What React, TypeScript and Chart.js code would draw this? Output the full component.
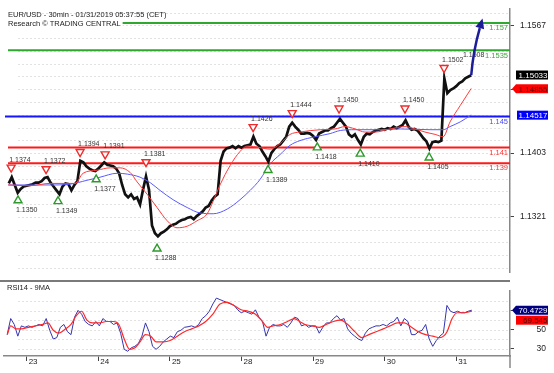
import React, { useEffect, useRef } from 'react';
import { Chart, registerables } from 'chart.js';
Chart.register(...registerables);

const FONT = '"Liberation Sans", Arial, sans-serif';

// ---- axis / time ----
const dayLabels = ['23', '24', '25', '28', '29', '30', '31'];
const dayStartHours = [0, 24, 48, 72, 96, 120, 144];
const X_MIN = -7.6;
const X_MAX = 162;

// ---- texts ----
const headerLine1 = 'EUR/USD - 30min - 01/31/2019 05:37:55 (CET)';
const headerLine2 = 'Research © TRADING CENTRAL';
const rsiTitle = 'RSI14 - 9MA';

// ---- price (hourly closes, first at hour -6) ----
const priceStartHour = -6;
const closes = [
  1.1364, 1.1372, 1.1362, 1.1352, 1.1357, 1.1360,
  1.1361, 1.1362, 1.1363, 1.1365, 1.1365, 1.1367, 1.1371, 1.1372, 1.1365, 1.1360, 1.1355, 1.1350,
  1.1360, 1.1364, 1.1363, 1.1355, 1.1362, 1.1367, 1.1393, 1.1391, 1.1386, 1.1383, 1.1381, 1.1380,
  1.1383, 1.1387, 1.1391, 1.1388, 1.1387, 1.1386, 1.1383, 1.1377, 1.1362, 1.1350, 1.1346, 1.1350,
  1.1344, 1.1346, 1.1337, 1.1356, 1.1373, 1.1356, 1.1310, 1.1300, 1.1296, 1.1300, 1.1302, 1.1305,
  1.1309, 1.1311, 1.1312, 1.1315, 1.1317, 1.1318, 1.1320, 1.1321, 1.1318, 1.1322, 1.1325, 1.1328,
  1.1333, 1.1335, 1.1342, 1.1347, 1.1350, 1.1393, 1.1405, 1.1409, 1.1410, 1.1412, 1.1409, 1.1412,
  1.1410, 1.1412, 1.1413, 1.1414, 1.1424, 1.1415, 1.1412, 1.1405, 1.1399, 1.1392, 1.1403, 1.1408,
  1.1412, 1.1414, 1.1419, 1.1424, 1.1437, 1.1442, 1.1437, 1.1433, 1.1428, 1.1428, 1.1429, 1.1428,
  1.1425, 1.1420, 1.1428, 1.1430, 1.1432, 1.1432, 1.1435, 1.1437, 1.1442, 1.1447, 1.1442, 1.1437,
  1.1427, 1.1424, 1.1427, 1.1420, 1.1414, 1.1424, 1.1428, 1.1427, 1.1430, 1.1432, 1.1433, 1.1434,
  1.1433, 1.1435, 1.1434, 1.1437, 1.1435, 1.1437, 1.1439, 1.1445, 1.1437, 1.1433, 1.1434, 1.1432,
  1.1427, 1.1422, 1.1418, 1.1409, 1.1417, 1.1418, 1.1417, 1.1419, 1.1499, 1.1480, 1.1484, 1.1486,
  1.1489, 1.1493, 1.1495, 1.1499, 1.1501, 1.1503,
];

// moving averages: [hour, price]
const fastMA: [number, number][] = [
  [-6.2, 1.1362], [1.1, 1.1361], [7.8, 1.1364], [16.2, 1.1364], [18.9, 1.1377], [23.6, 1.1381],
  [28.0, 1.1384], [31.3, 1.1384], [34.7, 1.1378], [37.0, 1.1366], [40.4, 1.1350], [43.7, 1.1333],
  [47.1, 1.1316], [50.4, 1.1307], [53.8, 1.1309], [57.1, 1.1316], [60.5, 1.1325], [62.5, 1.1341],
  [64.8, 1.1362], [68.2, 1.1387], [71.5, 1.1405], [73.9, 1.1412], [78.2, 1.1410], [81.6, 1.1408],
  [84.9, 1.1415], [88.3, 1.1427], [91.6, 1.1430], [98.4, 1.1433], [103.4, 1.1434], [106.7, 1.1437],
  [110.1, 1.1434], [113.4, 1.1430], [116.8, 1.1430], [121.8, 1.1434], [126.8, 1.1437], [130.2, 1.1434],
  [133.5, 1.1430], [136.9, 1.1427], [139.6, 1.1424], [141.9, 1.1443], [145.3, 1.1464], [149.0, 1.1486],
];
const slowMA: [number, number][] = [
  [-6.2, 1.1362], [2.1, 1.1362], [7.8, 1.1362], [14.5, 1.1363], [20.2, 1.1368], [24.6, 1.1372],
  [30.3, 1.1377], [33.7, 1.1376], [38.0, 1.1372], [41.4, 1.1365], [44.7, 1.1355], [49.1, 1.1343],
  [53.8, 1.1333], [58.1, 1.1326], [62.5, 1.1325], [67.2, 1.1331], [71.5, 1.1343], [74.9, 1.1355],
  [78.2, 1.1369], [81.6, 1.1389], [84.9, 1.1401], [88.3, 1.1413], [91.6, 1.1419], [96.7, 1.1424],
  [101.7, 1.1428], [105.1, 1.1432], [110.1, 1.1433], [118.5, 1.1433], [125.2, 1.1434], [135.2, 1.1433],
  [139.6, 1.1433], [141.9, 1.1437], [145.3, 1.1443], [149.0, 1.1452],
];

// horizontal levels
const levelValues = [1.157, 1.1535, 1.145, 1.141, 1.139];
const levelTexts = ['1.157', '1.1535', '1.145', '1.141', '1.139'];
const levelColors = ['#2fa82f', '#2fa82f', '#1515ff', '#ff1a1a', '#ff1a1a'];
const levelTextColors = ['#3aa83a', '#3aa83a', '#4a4aff', '#ff3030', '#ff3030'];

// swing highs / lows
const peakHours = [-5.2, 6.5, 17.9, 26.3, 40.0, 75.9, 89.0, 104.7, 126.8, 139.9];
const peakValues = [1.1374, 1.1372, 1.1394, 1.1391, 1.1381, 1.1426, 1.1444, 1.1450, 1.1450, 1.1502];
const troughHours = [-2.9, 10.5, 23.3, 43.7, 80.9, 97.4, 111.8, 134.9];
const troughValues = [1.1350, 1.1349, 1.1377, 1.1288, 1.1389, 1.1418, 1.1410, 1.1405];
const extraLabelHour = 146.9;
const extraLabelValue = 1.1508;

// target arrow
const targetHour = 152.8;
const targetValue = 1.1576;

const priceTicks = [1.1321, 1.1403, 1.1485, 1.1567];
const priceGridBase = 1.1239;
const priceGridStep = 0.00164;
const lastClose = 1.15033;
const lastFast = 1.14855;
const lastSlow = 1.14517;

// ---- RSI ----
const rsiStartHour = -6.54;
const rsiStepHours = 1.1887;
const rsiValues = [
  44.8, 61.7, 55.5, 43.2, 54.0, 52.5, 54.0, 52.5, 54.0, 55.5,
  54.0, 61.7, 49.4, 40.2, 41.7, 52.5, 55.5, 47.9, 44.8, 63.2,
  70.3, 66.3, 58.6, 55.5, 54.0, 58.6, 54.0, 61.7, 58.6, 58.6,
  55.5, 57.1, 46.3, 29.4, 27.3, 31.0, 32.5, 35.5, 43.2, 57.1,
  47.9, 32.5, 29.4, 32.5, 37.1, 40.2, 43.2, 41.7, 47.9, 49.4,
  52.5, 53.1, 54.0, 52.5, 55.5, 61.7, 64.7, 69.4, 77.0, 83.2,
  81.6, 80.1, 78.6, 77.0, 75.5, 70.9, 67.8, 69.4, 67.8, 66.3,
  70.9, 63.2, 58.6, 43.2, 52.5, 55.5, 54.0, 54.0, 55.5, 52.5,
  57.1, 63.2, 61.7, 54.0, 55.5, 52.5, 54.0, 54.0, 46.3, 52.5,
  57.1, 57.1, 61.7, 64.7, 60.1, 61.7, 50.9, 46.3, 43.2, 40.2,
  38.6, 46.3, 50.9, 52.5, 54.0, 54.0, 55.5, 54.0, 57.1, 58.6,
  63.2, 54.0, 61.7, 58.6, 44.8, 44.8, 47.9, 49.4, 55.5, 40.2,
  32.5, 38.6, 43.2, 46.3, 75.5, 69.4, 67.8, 69.4, 67.8, 67.8,
  69.4, 70.5,
];
const rsiMA: [number, number][] = [
  [-6.5, 44.8], [-5.35, 54.0], [-3.57, 50.9], [-1.78, 50.9], [0.59, 52.5], [2.97, 54.0], [5.35, 55.5],
  [7.13, 57.1], [8.92, 49.4], [10.7, 46.3], [13.1, 50.9], [14.86, 55.5], [16.64, 64.7], [18.4, 69.4],
  [20.2, 60.1], [22.0, 57.1], [24.4, 57.1], [26.7, 58.6], [29.1, 58.6], [30.9, 55.5], [32.7, 40.2],
  [34.5, 29.4], [36.3, 31.0], [38.0, 37.1], [39.8, 44.8], [41.6, 43.2], [43.4, 37.1], [45.8, 37.1],
  [48.1, 38.6], [50.5, 43.2], [52.9, 47.9], [55.3, 50.9], [57.7, 54.0], [60.0, 58.6], [62.4, 66.3],
  [64.8, 77.0], [67.2, 78.6], [69.5, 75.5], [71.9, 70.9], [74.3, 69.4], [76.7, 66.3], [79.0, 58.6],
  [80.8, 52.5], [82.6, 54.0], [85.0, 55.5], [87.4, 58.6], [89.7, 61.7], [91.5, 58.6], [93.3, 55.5],
  [95.7, 54.0], [98.1, 52.5], [100.4, 55.5], [102.8, 58.6], [105.2, 60.1], [107.6, 55.5], [110.0, 47.9],
  [112.3, 41.7], [114.7, 44.8], [117.1, 47.9], [119.5, 50.9], [121.8, 54.0], [124.2, 57.1], [126.6, 57.1],
  [129.0, 52.5], [131.3, 47.9], [133.7, 44.8], [136.1, 43.2], [138.5, 41.7], [139.7, 43.2], [140.9, 47.9],
  [142.6, 61.7], [144.4, 67.8], [146.8, 67.8], [149.2, 69.5],
];
const rsiTicks = [30, 50, 70];
const rsiGrid = [30, 40, 50, 60, 70, 80];
const lastRsi = 70.4729;
const lastRsiMA = 69.545;

// ---------- drawing helpers ----------
function drawBox(ctx: CanvasRenderingContext2D, cy: number, text: string, bg: string, fg: string, pointer: boolean, xl: number) {
  const xr = 548;
  const h = 9;
  ctx.save();
  ctx.fillStyle = bg;
  ctx.beginPath();
  if (pointer) {
    ctx.moveTo(xl - 4, cy);
    ctx.lineTo(xl, cy - h / 2);
  } else {
    ctx.moveTo(xl, cy - h / 2);
  }
  ctx.lineTo(xr, cy - h / 2);
  ctx.lineTo(xr, cy + h / 2);
  ctx.lineTo(xl, cy + h / 2);
  ctx.closePath();
  ctx.fill();
  ctx.fillStyle = fg;
  ctx.font = `8px ${FONT}`;
  ctx.textAlign = 'right';
  ctx.textBaseline = 'middle';
  ctx.fillText(text, xr - 0.5, cy + 0.5);
  ctx.restore();
}

function tri(ctx: CanvasRenderingContext2D, x: number, y: number, down: boolean, color: string) {
  ctx.save();
  ctx.beginPath();
  if (down) {
    ctx.moveTo(x - 4, y - 3.5);
    ctx.lineTo(x + 4, y - 3.5);
    ctx.lineTo(x, y + 3.5);
  } else {
    ctx.moveTo(x - 4, y + 3.5);
    ctx.lineTo(x + 4, y + 3.5);
    ctx.lineTo(x, y - 3.5);
  }
  ctx.closePath();
  ctx.fillStyle = '#fff';
  ctx.fill();
  ctx.strokeStyle = color;
  ctx.lineWidth = 1.4;
  ctx.stroke();
  ctx.restore();
}

const mainPlugin = {
  id: 'mainDeco',
  beforeDatasetsDraw(chart: any) {
    const { ctx, chartArea: a, scales } = chart;
    const y = scales.y;
    ctx.save();
    ctx.strokeStyle = '#e2e2e2';
    ctx.lineWidth = 1;
    ctx.setLineDash([2, 2]);
    for (let v = priceGridBase; v <= y.max; v += priceGridStep) {
      const py = Math.round(y.getPixelForValue(v)) + 0.5;
      if (py < a.top || py > a.bottom - 2) continue;
      ctx.beginPath();
      ctx.moveTo(a.left + 14, py);
      ctx.lineTo(a.right, py);
      ctx.stroke();
    }
    ctx.setLineDash([]);
    levelValues.forEach((v, i) => {
      const py = y.getPixelForValue(v);
      ctx.strokeStyle = levelColors[i];
      ctx.lineWidth = 2;
      ctx.beginPath();
      ctx.moveTo(a.left + (i === 2 ? 1 : 4), py);
      ctx.lineTo(a.right, py);
      ctx.stroke();
    });
    ctx.restore();
  },
  afterDatasetsDraw(chart: any) {
    const { ctx, chartArea: a, scales } = chart;
    const x = scales.x;
    const y = scales.y;
    ctx.save();
    // level labels
    ctx.font = `7.5px ${FONT}`;
    ctx.textAlign = 'right';
    ctx.textBaseline = 'top';
    levelValues.forEach((v, i) => {
      const py = y.getPixelForValue(v);
      ctx.fillStyle = levelTextColors[i];
      ctx.fillText(levelTexts[i], a.right - 2, py + 1.5);
    });
    // markers
    ctx.font = `7px ${FONT}`;
    ctx.textAlign = 'left';
    ctx.textBaseline = 'middle';
    peakHours.forEach((h, i) => {
      const px = x.getPixelForValue(h);
      const py = y.getPixelForValue(peakValues[i]) - 7;
      tri(ctx, px, py, true, '#ee2b2b');
      ctx.fillStyle = '#333';
      ctx.fillText(peakValues[i].toFixed(4), px - 2, py - 9);
    });
    troughHours.forEach((h, i) => {
      const px = x.getPixelForValue(h);
      const py = y.getPixelForValue(troughValues[i]) + 5;
      tri(ctx, px, py, false, '#2e9a2e');
      ctx.fillStyle = '#333';
      ctx.fillText(troughValues[i].toFixed(4), px - 2, py + 11);
    });
    {
      const px = x.getPixelForValue(extraLabelHour);
      const py = y.getPixelForValue(extraLabelValue) - 7;
      ctx.fillStyle = '#333';
      ctx.fillText(extraLabelValue.toFixed(4), px - 2, py - 9);
    }
    // arrow
    const x0 = x.getPixelForValue(priceStartHour + closes.length - 1);
    const y0 = y.getPixelForValue(closes[closes.length - 1]);
    const x1 = x.getPixelForValue(targetHour);
    const y1 = y.getPixelForValue(targetValue);
    const cx = x0 + 2;
    const cy = (y0 + y1) / 2 + 4;
    const ang = Math.atan2(y1 - cy, x1 - cx);
    const hl = 10;
    const hw = 4.5;
    const bx = x1 - hl * Math.cos(ang);
    const by = y1 - hl * Math.sin(ang);
    ctx.strokeStyle = '#1d1d9a';
    ctx.fillStyle = '#1d1d9a';
    ctx.lineWidth = 2.5;
    ctx.beginPath();
    ctx.moveTo(x0, y0);
    ctx.quadraticCurveTo(cx, cy, bx, by);
    ctx.stroke();
    ctx.beginPath();
    ctx.moveTo(x1, y1);
    ctx.lineTo(bx + hw * Math.sin(ang), by - hw * Math.cos(ang));
    ctx.lineTo(bx - hw * Math.sin(ang), by + hw * Math.cos(ang));
    ctx.closePath();
    ctx.fill();
    // header
    ctx.font = `7.5px ${FONT}`;
    ctx.textAlign = 'left';
    ctx.textBaseline = 'middle';
    const w2 = ctx.measureText(headerLine2).width;
    ctx.fillStyle = '#fff';
    ctx.fillRect(6, 19, w2 + 4, 9);
    ctx.fillStyle = '#222';
    ctx.fillText(headerLine1, 8, 15);
    ctx.fillText(headerLine2, 8, 23.5);
    // separator
    ctx.strokeStyle = '#7a7a7a';
    ctx.lineWidth = 2;
    ctx.beginPath();
    ctx.moveTo(0, chart.height - 1);
    ctx.lineTo(a.right, chart.height - 1);
    ctx.stroke();
    ctx.restore();
  },
  afterDraw(chart: any) {
    const { ctx, scales } = chart;
    const y = scales.y;
    drawBox(ctx, y.getPixelForValue(lastClose), lastClose.toFixed(5), '#000', '#fff', false, 516);
    drawBox(ctx, y.getPixelForValue(lastFast), lastFast.toFixed(5), '#ff0000', '#5a0000', true, 516);
    drawBox(ctx, y.getPixelForValue(lastSlow), lastSlow.toFixed(5), '#0000ff', '#fff', false, 517);
  },
};

const rsiPlugin = {
  id: 'rsiDeco',
  beforeDatasetsDraw(chart: any) {
    const { ctx, chartArea: a, scales } = chart;
    const y = scales.y;
    ctx.save();
    ctx.strokeStyle = '#e2e2e2';
    ctx.lineWidth = 1;
    ctx.setLineDash([2, 2]);
    rsiGrid.forEach((v) => {
      const py = Math.round(y.getPixelForValue(v)) + 0.5;
      ctx.beginPath();
      ctx.moveTo(a.left + 14, py);
      ctx.lineTo(a.right, py);
      ctx.stroke();
    });
    ctx.restore();
  },
  afterDraw(chart: any) {
    const { ctx, chartArea: a, scales } = chart;
    const y = scales.y;
    ctx.save();
    ctx.font = `7.5px ${FONT}`;
    ctx.fillStyle = '#222';
    ctx.textAlign = 'left';
    ctx.textBaseline = 'middle';
    ctx.fillText(rsiTitle, 7, 6);
    ctx.strokeStyle = '#888';
    ctx.lineWidth = 1.5;
    ctx.beginPath();
    ctx.moveTo(a.right, a.bottom);
    ctx.lineTo(a.right, chart.height - 5);
    ctx.stroke();
    ctx.restore();
    const yr = y.getPixelForValue(lastRsi);
    let ym = y.getPixelForValue(lastRsiMA);
    if (Math.abs(ym - yr) < 10) ym = yr + 10;
    drawBox(ctx, yr, lastRsi.toFixed(4), '#000080', '#fff', true, 516);
    drawBox(ctx, ym, String(lastRsiMA), '#ff0000', '#5a0000', false, 516);
  },
};

export default function App() {
  const mainRef = useRef<HTMLCanvasElement>(null);
  const rsiRef = useRef<HTMLCanvasElement>(null);

  useEffect(() => {
    document.body.style.margin = '0';
    const fixW = (s: any) => { s.width = 36; };

    const main = new Chart(mainRef.current as HTMLCanvasElement, {
      type: 'line',
      data: {
        datasets: [
          {
            data: fastMA.map(([h, v]) => ({ x: h, y: v })),
            borderColor: '#ff3a3a',
            borderWidth: 1,
            pointRadius: 0,
            cubicInterpolationMode: 'monotone',
          },
          {
            data: slowMA.map(([h, v]) => ({ x: h, y: v })),
            borderColor: '#5a5aff',
            borderWidth: 1,
            pointRadius: 0,
            cubicInterpolationMode: 'monotone',
          },
          {
            data: closes.map((v, i) => ({ x: priceStartHour + i, y: v })),
            borderColor: '#111',
            borderWidth: 2.7,
            pointRadius: 0,
            tension: 0,
          },
        ],
      } as any,
      options: {
        animation: false,
        responsive: false,
        devicePixelRatio: 1,
        events: [],
        layout: { padding: { left: 4, right: 8, top: 8, bottom: 1 } },
        plugins: { legend: { display: false }, tooltip: { enabled: false } },
        scales: {
          x: { type: 'linear', min: X_MIN, max: X_MAX, display: false },
          y: {
            position: 'right',
            min: 1.1249,
            max: 1.1588,
            afterBuildTicks: (s: any) => { s.ticks = priceTicks.map((v) => ({ value: v })); },
            afterFit: fixW,
            ticks: {
              callback: (v: any) => Number(v).toFixed(4),
              font: { size: 8.5, family: FONT },
              color: '#222',
              crossAlign: 'far',
              padding: 4,
            },
            grid: { drawOnChartArea: false, tickLength: 4, color: '#444' },
            border: { color: '#888', width: 1.5 },
          },
        },
      } as any,
      plugins: [mainPlugin],
    });

    const rsi = new Chart(rsiRef.current as HTMLCanvasElement, {
      type: 'line',
      data: {
        datasets: [
          {
            data: rsiMA.map(([h, v]) => ({ x: h, y: v })),
            borderColor: '#ff2a2a',
            borderWidth: 1.2,
            pointRadius: 0,
            cubicInterpolationMode: 'monotone',
          },
          {
            data: rsiValues.map((v, i) => ({ x: rsiStartHour + i * rsiStepHours, y: v })),
            borderColor: '#3535b0',
            borderWidth: 1,
            pointRadius: 0,
            tension: 0,
          },
        ],
      } as any,
      options: {
        animation: false,
        responsive: false,
        devicePixelRatio: 1,
        events: [],
        layout: { padding: { left: 4, right: 8, top: 0, bottom: 0 } },
        plugins: { legend: { display: false }, tooltip: { enabled: false } },
        scales: {
          x: {
            type: 'linear',
            min: X_MIN,
            max: X_MAX,
            afterBuildTicks: (s: any) => { s.ticks = dayStartHours.map((v) => ({ value: v })); },
            afterFit: (s: any) => { s.height = 17; },
            ticks: {
              callback: (v: any) => dayLabels[dayStartHours.indexOf(Number(v))],
              font: { size: 8, family: FONT },
              color: '#222',
              align: 'start',
              labelOffset: 2,
              padding: -4,
              maxRotation: 0,
              autoSkip: false,
            },
            grid: { drawOnChartArea: false, tickLength: 5, color: '#444' },
            border: { color: '#888', width: 1.5 },
          },
          y: {
            position: 'right',
            min: 22.35,
            max: 90.55,
            afterBuildTicks: (s: any) => { s.ticks = rsiTicks.map((v) => ({ value: v })); },
            afterFit: fixW,
            ticks: {
              callback: (v: any) => String(v),
              font: { size: 8.5, family: FONT },
              color: '#222',
              crossAlign: 'far',
              padding: 4,
            },
            grid: { drawOnChartArea: false, tickLength: 4, color: '#444' },
            border: { color: '#888', width: 1.5 },
          },
        },
      } as any,
      plugins: [rsiPlugin],
    });

    return () => {
      main.destroy();
      rsi.destroy();
    };
  }, []);

  return (
    <div style={{ position: 'relative', width: 554, height: 373, background: '#fff' }}>
      <canvas ref={mainRef} width={554} height={282} style={{ position: 'absolute', left: 0, top: 0, width: 554, height: 282 }} />
      <canvas ref={rsiRef} width={554} height={91} style={{ position: 'absolute', left: 0, top: 282, width: 554, height: 91 }} />
    </div>
  );
}
